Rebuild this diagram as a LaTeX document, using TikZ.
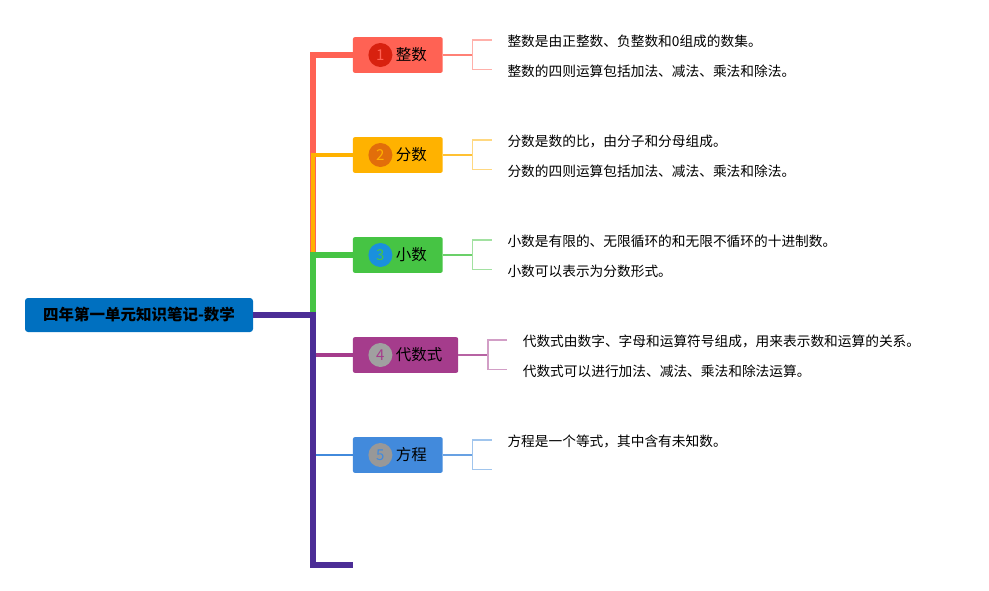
\documentclass[tikz,border=0pt]{standalone}
\usepackage{fontspec}
\setmainfont{Noto Sans CJK SC}
\usepackage{xcolor}
\usetikzlibrary{positioning}
\definecolor{rootblue}{RGB}{0,112,192}
\definecolor{trunk}{RGB}{76,45,150}
\definecolor{c1}{RGB}{255,98,84}
\definecolor{c2}{RGB}{255,178,0}
\definecolor{c3}{RGB}{70,196,68}
\definecolor{c4}{RGB}{165,60,140}
\definecolor{c5}{RGB}{66,138,220}
\definecolor{d1}{RGB}{216,33,15}
\definecolor{d2}{RGB}{226,110,10}
\definecolor{d3}{RGB}{26,144,221}
\definecolor{d4}{RGB}{160,160,160}
\definecolor{d5}{RGB}{152,152,152}

\begin{document}
\begin{tikzpicture}[x=1pt,y=-1pt,
    topic/.style={anchor=west,minimum height=35.7pt,inner xsep=15.8pt,inner ysep=0pt,rounded corners=2pt,font=\fontsize{15.5}{18}\selectfont},
    badge/.style={circle,minimum size=24pt,inner sep=0pt,font=\fontsize{15}{17}\selectfont},
    leaf/.style={inner sep=0pt,font=\fontsize{13.7}{16}\selectfont}]
    \useasboundingbox (0,0) rectangle (989,590);

    % Root
    \node[fill=rootblue,rounded corners=3pt,minimum width=228pt,minimum height=34pt,font=\fontsize{15.5}{18}\selectfont\bfseries] (root) at (139,315) {四年第一单元知识笔记-数学};
    \coordinate (j) at (313,315);
    \coordinate (e) at (352.7,564.5);

    % Topics
    \foreach \i/\y/\txt in {1/55/整数, 2/155/分数, 3/255/小数, 4/355/代数式, 5/455/方程} {
        \node[topic,fill=c\i] (t\i) at (352.7,\y) {\hspace*{27.2pt}\txt};
        \node[badge,fill=d\i,text=c\i] (n\i) at ([xshift=27.7pt]t\i.west) {\i};
    }

    % Trunk
    \draw[c1,line width=6pt] (j) |- (t1.west);
    \draw[c2,line width=4pt] (j) |- (t2.west);
    \draw[c3,line width=6pt] (j) |- (t3.west);
    \draw[c4,line width=4.5pt] (j) |- (t4.west);
    \draw[c5,line width=2pt] (j) |- (t5.west);
    \draw[trunk,line width=6pt] (root.east) -- (j) |- (e);

    % Leaf arms
    \foreach \i/\j/\x/\y in {1/1/491.7/40, 1/2/491.7/69.5, 2/1/491.7/140, 2/2/491.7/169.5,
                             3/1/491.7/240, 3/2/491.7/269.5, 4/1/507/340, 4/2/507/369.5,
                             5/1/491.7/440, 5/2/491.7/469.5}
        \coordinate (a\i\j) at (\x,\y);

    % Leaves
    \foreach \i/\j/\txt in {1/1/整数是由正整数、负整数和0组成的数集。,
                            1/2/整数的四则运算包括加法、减法、乘法和除法。,
                            2/1/分数是数的比，由分子和分母组成。,
                            2/2/分数的四则运算包括加法、减法、乘法和除法。,
                            3/1/小数是有限的、无限循环的和无限不循环的十进制数。,
                            3/2/小数可以表示为分数形式。,
                            4/1/代数式由数字、字母和运算符号组成，用来表示数和运算的关系。,
                            4/2/代数式可以进行加法、减法、乘法和除法运算。,
                            5/1/方程是一个等式，其中含有未知数。}
        \node[leaf,right=15.6pt of a\i\j,yshift=-1.5pt] (l\i\j) {\txt};

    % Brackets
    \foreach \i in {1,...,5} {
        \coordinate (b\i) at ([xshift=29.5pt]t\i.east);
        \draw[c\i!80,line width=2.3pt] (t\i.east) -- (b\i);
        \draw[c\i!50,line width=1.5pt] (a\i1) -| (b\i) |- (a\i2);
    }
\end{tikzpicture}
\end{document}
